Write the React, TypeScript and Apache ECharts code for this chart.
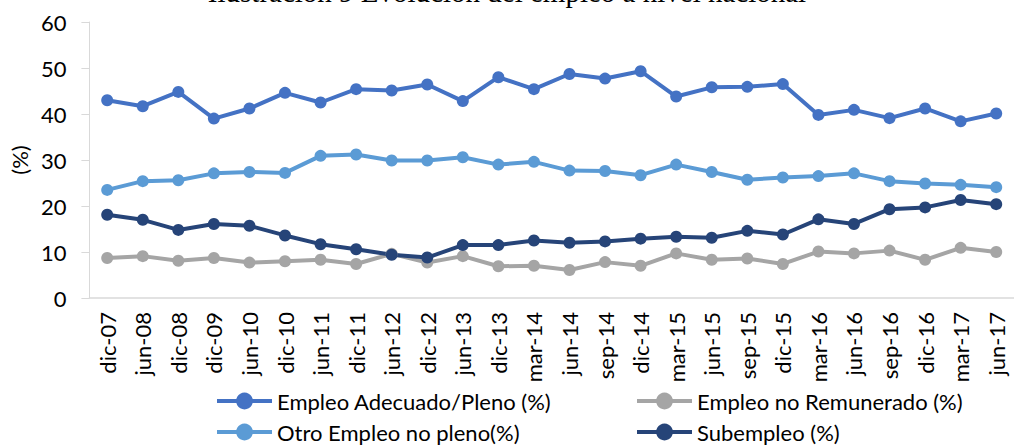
import React, { useEffect, useRef } from "react";
import * as echarts from "echarts";

const categories = [
  "dic-07", "jun-08", "dic-08", "dic-09", "jun-10", "dic-10", "jun-11", "dic-11",
  "jun-12", "dic-12", "jun-13", "dic-13", "mar-14", "jun-14", "sep-14", "dic-14",
  "mar-15", "jun-15", "sep-15", "dic-15", "mar-16", "jun-16", "sep-16", "dic-16",
  "mar-17", "jun-17",
];

const adecuado = [
  43.0, 41.7, 44.8, 39.0, 41.2, 44.6, 42.5, 45.4, 45.1, 46.4, 42.8, 48.0, 45.4,
  48.7, 47.7, 49.3, 43.8, 45.8, 45.9, 46.5, 39.8, 40.9, 39.1, 41.2, 38.4, 40.1,
];
const noRemunerado = [
  8.7, 9.1, 8.1, 8.7, 7.7, 8.0, 8.3, 7.4, 9.6, 7.7, 9.1, 6.9, 7.0,
  6.1, 7.8, 7.0, 9.7, 8.3, 8.6, 7.4, 10.1, 9.7, 10.3, 8.3, 10.9, 10.0,
];
const otroNoPleno = [
  23.5, 25.4, 25.6, 27.1, 27.4, 27.2, 30.9, 31.2, 29.9, 29.9, 30.6, 29.0, 29.6,
  27.7, 27.6, 26.7, 29.0, 27.4, 25.7, 26.2, 26.5, 27.1, 25.4, 24.9, 24.6, 24.1,
];
const subempleo = [
  18.1, 17.0, 14.8, 16.1, 15.7, 13.6, 11.7, 10.6, 9.4, 8.8, 11.5, 11.5, 12.5,
  12.0, 12.3, 12.9, 13.3, 13.1, 14.6, 13.8, 17.1, 16.1, 19.3, 19.7, 21.3, 20.4,
];

const yTicks = { min: 0, max: 60, interval: 10 };

const FONT = "Lato, 'Noto Sans', sans-serif";
const FS = 22;

export default function App() {
  const ref = useRef<HTMLDivElement>(null);
  useEffect(() => {
    if (!ref.current) return;
    const chart = echarts.init(ref.current, undefined, { renderer: "svg" });
    const mk = (name: string, data: number[], color: string) => ({
      name,
      type: "line",
      data,
      symbol: "circle",
      symbolSize: 12,
      showSymbol: true,
      lineStyle: { width: 4, color },
      itemStyle: { color },
      emphasis: { disabled: true },
    });
    const legendBase = {
      orient: "vertical",
      top: 390,
      height: 80,
      padding: 0,
      itemWidth: 55,
      itemHeight: 21,
      itemGap: 9,
      lineStyle: { width: 4 },
      textStyle: { fontSize: FS, color: "#000", fontFamily: FONT },
    };
    chart.setOption({
      animation: false,
      textStyle: { fontFamily: FONT },
      graphic: [
        {
          type: "text",
          left: "center",
          top: -23,
          style: {
            text: "Ilustración 9 Evolución del empleo a nivel nacional",
            font: "29px 'Liberation Serif', 'Times New Roman', serif",
            fill: "#000",
          },
        },
      ],
      legend: [
        {
          ...legendBase,
          left: 215,
          data: ["Empleo Adecuado/Pleno (%)", "Otro Empleo no pleno(%)"],
        },
        {
          ...legendBase,
          left: 635,
          data: ["Empleo no Remunerado (%)", "Subempleo (%)"],
        },
      ],
      grid: { left: 89, right: -4, top: 22, bottom: 147, containLabel: false },
      xAxis: {
        type: "category",
        data: categories,
        boundaryGap: true,
        axisLine: { lineStyle: { color: "#D9D9D9", width: 1.5 } },
        axisTick: { show: false },
        axisLabel: { rotate: 90, fontSize: FS, color: "#000", margin: 14, fontFamily: FONT },
      },
      yAxis: {
        type: "value",
        min: yTicks.min,
        max: yTicks.max,
        interval: yTicks.interval,
        name: "(%)",
        nameLocation: "middle",
        nameGap: 58,
        nameRotate: 90,
        nameTextStyle: { fontSize: FS, color: "#000", fontFamily: FONT },
        axisLine: { show: true, lineStyle: { color: "#D9D9D9", width: 1 } },
        axisTick: { show: true, inside: false, length: 8, lineStyle: { color: "#D9D9D9" } },
        splitLine: { show: false },
        axisLabel: { fontSize: FS, color: "#000", margin: 23, fontFamily: FONT },
      },
      series: [
        mk("Empleo Adecuado/Pleno (%)", adecuado, "#4472C4"),
        mk("Otro Empleo no pleno(%)", otroNoPleno, "#5B9BD5"),
        mk("Empleo no Remunerado (%)", noRemunerado, "#A5A5A5"),
        mk("Subempleo (%)", subempleo, "#264478"),
      ],
    });
    return () => chart.dispose();
  }, []);
  return <div ref={ref} style={{ width: 1014, height: 445, position: "absolute", left: 0, top: 0 }} />;
}
